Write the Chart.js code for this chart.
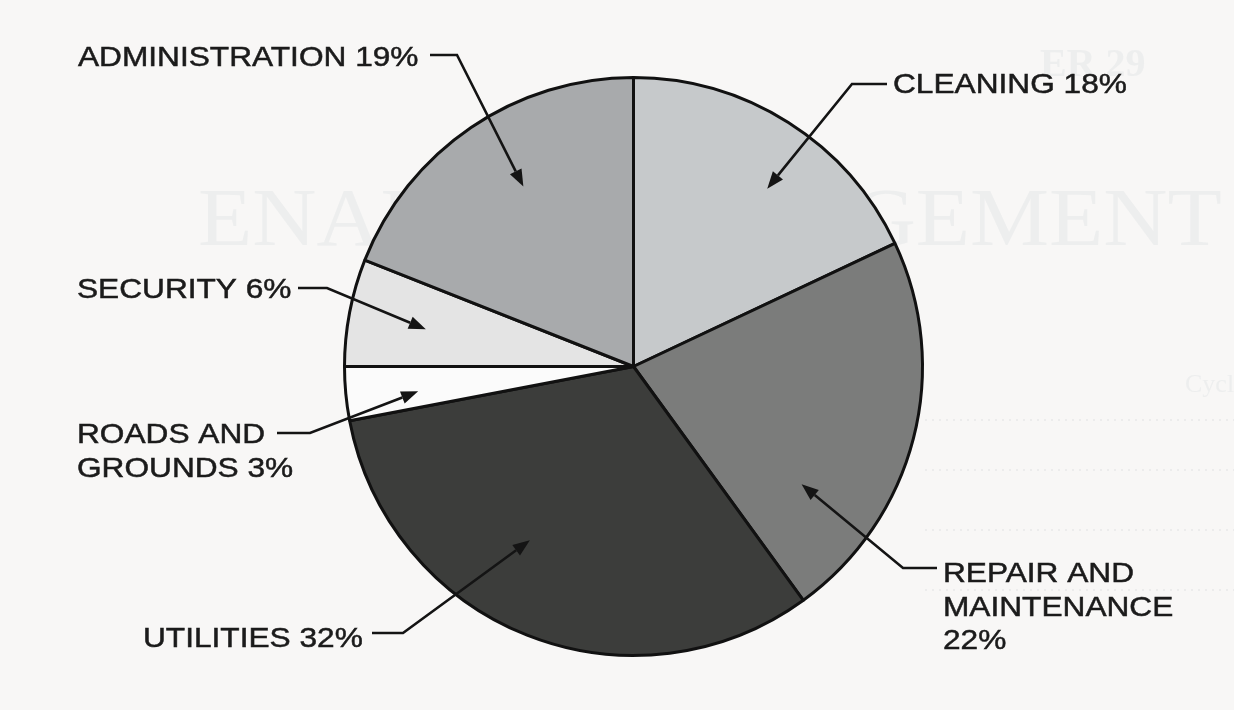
<!DOCTYPE html>
<html>
<head>
<meta charset="utf-8">
<script src="https://cdn.jsdelivr.net/npm/chart.js@4/dist/chart.umd.min.js"></script>
<style>
  html, body { margin: 0; padding: 0; background: #f8f7f6; }
  #wrap { width: 1234px; height: 710px; }
</style>
</head>
<body>
<div id="wrap"><canvas id="pieCost" width="1234" height="710"></canvas></div>
<script>
// slice order follows the picture: clockwise from 12 o'clock
const categories = ['CLEANING', 'REPAIR AND MAINTENANCE', 'UTILITIES', 'ROADS AND GROUNDS', 'SECURITY', 'ADMINISTRATION'];
const shares = [18, 22, 32, 3, 6, 19];
const sliceColors = ['#c6c9cb', '#7b7c7b', '#3c3d3b', '#fbfbfb', '#e4e4e4', '#a8aaac'];

// callout placement: text anchor, leader start / elbow, arrow tip inside slice
// (at = fraction along slice angle, r = fraction of radius); {p} -> share
const callouts = [
  { lines: ['CLEANING {p}%'], x: 893, y: 93, from: [887, 84], elbow: [852, 84], at: 0.57, r: 0.77 },
  { lines: ['REPAIR AND', 'MAINTENANCE', '{p}%'], x: 943, y: 582, from: [937, 568], elbow: [903, 568], at: 0.76, r: 0.71 },
  { lines: ['UTILITIES {p}%'], x: 143, y: 647, from: [372, 633], elbow: [403, 633], at: 0.58, r: 0.70 },
  { lines: ['ROADS AND', 'GROUNDS {p}%'], x: 77, y: 443, from: [277, 433], elbow: [310, 433], at: 0.39, r: 0.75 },
  { lines: ['SECURITY {p}%'], x: 77, y: 298, from: [298, 288], elbow: [327, 288], at: 0.47, r: 0.73 },
  { lines: ['ADMINISTRATION {p}%'], x: 78, y: 66, from: [430, 55], elbow: [457, 55], at: 0.54, r: 0.73 }
];

// faint print-through from the other side of the scanned page
const paperGhost = {
  id: 'paperGhost',
  beforeDatasetsDraw(chart) {
    const ctx = chart.ctx;
    ctx.save();
    ctx.fillStyle = 'rgba(185,195,200,0.17)';
    ctx.font = 'bold 40px "Liberation Serif", serif';
    ctx.fillText('ER 29', 1040, 76);
    ctx.save();
    ctx.translate(198, 245);
    ctx.scale(1.07, 1);
    ctx.font = '83px "Liberation Serif", serif';
    ctx.fillText('ENANCE MANAGEMENT', 0, 0);
    ctx.restore();
    ctx.font = '26px "Liberation Serif", serif';
    ctx.fillText('Cycle Costs', 1185, 392);
    ctx.strokeStyle = 'rgba(170,175,180,0.2)';
    ctx.lineWidth = 1.5;
    ctx.setLineDash([2, 5]);
    [420, 470, 530, 590].forEach(function(y) {
      ctx.beginPath();
      ctx.moveTo(925, y);
      ctx.lineTo(1234, y);
      ctx.stroke();
    });
    ctx.restore();
  }
};

// leader lines with arrow heads and the upper-case labels
const calloutLabels = {
  id: 'calloutLabels',
  afterDatasetsDraw(chart) {
    const ctx = chart.ctx;
    const arcs = chart.getDatasetMeta(0).data;
    ctx.save();
    callouts.forEach(function(c, i) {
      const arc = arcs[i];
      const a = arc.startAngle + c.at * (arc.endAngle - arc.startAngle);
      const tx = arc.x + Math.cos(a) * arc.outerRadius * c.r;
      const ty = arc.y + Math.sin(a) * arc.outerRadius * c.r;

      const ang = Math.atan2(ty - c.elbow[1], tx - c.elbow[0]);
      const headLen = 17, headW = 6.5;
      const bx = tx - Math.cos(ang) * headLen;
      const by = ty - Math.sin(ang) * headLen;

      ctx.strokeStyle = '#141414';
      ctx.lineWidth = 2.6;
      ctx.lineJoin = 'miter';
      ctx.beginPath();
      ctx.moveTo(c.from[0], c.from[1]);
      ctx.lineTo(c.elbow[0], c.elbow[1]);
      ctx.lineTo(bx, by);
      ctx.stroke();

      ctx.fillStyle = '#141414';
      ctx.beginPath();
      ctx.moveTo(tx, ty);
      ctx.lineTo(bx + Math.sin(ang) * headW, by - Math.cos(ang) * headW);
      ctx.lineTo(bx - Math.sin(ang) * headW, by + Math.cos(ang) * headW);
      ctx.closePath();
      ctx.fill();

      ctx.fillStyle = '#1b1b1b';
      ctx.strokeStyle = '#1b1b1b';
      ctx.lineWidth = 0.5;
      ctx.font = '28px "Liberation Sans", Arial, sans-serif';
      ctx.textBaseline = 'alphabetic';
      c.lines.forEach(function(line, k) {
        const txt = line.replace('{p}', shares[i]);
        ctx.save();
        ctx.translate(c.x, c.y + k * 33.5);
        ctx.scale(1.13, 1);
        ctx.fillText(txt, 0, 0);
        ctx.strokeText(txt, 0, 0);
        ctx.restore();
      });
    });
    ctx.restore();
  }
};

new Chart(document.getElementById('pieCost').getContext('2d'), {
  type: 'pie',
  data: {
    labels: categories,
    datasets: [{
      data: shares,
      backgroundColor: sliceColors,
      borderColor: '#111111',
      borderWidth: 3
    }]
  },
  options: {
    responsive: false,
    animation: false,
    layout: { padding: { left: 343, right: 310, top: 76, bottom: 53 } },
    plugins: {
      legend: { display: false },
      tooltip: { enabled: false }
    }
  },
  plugins: [paperGhost, calloutLabels]
});
</script>
</body>
</html>
